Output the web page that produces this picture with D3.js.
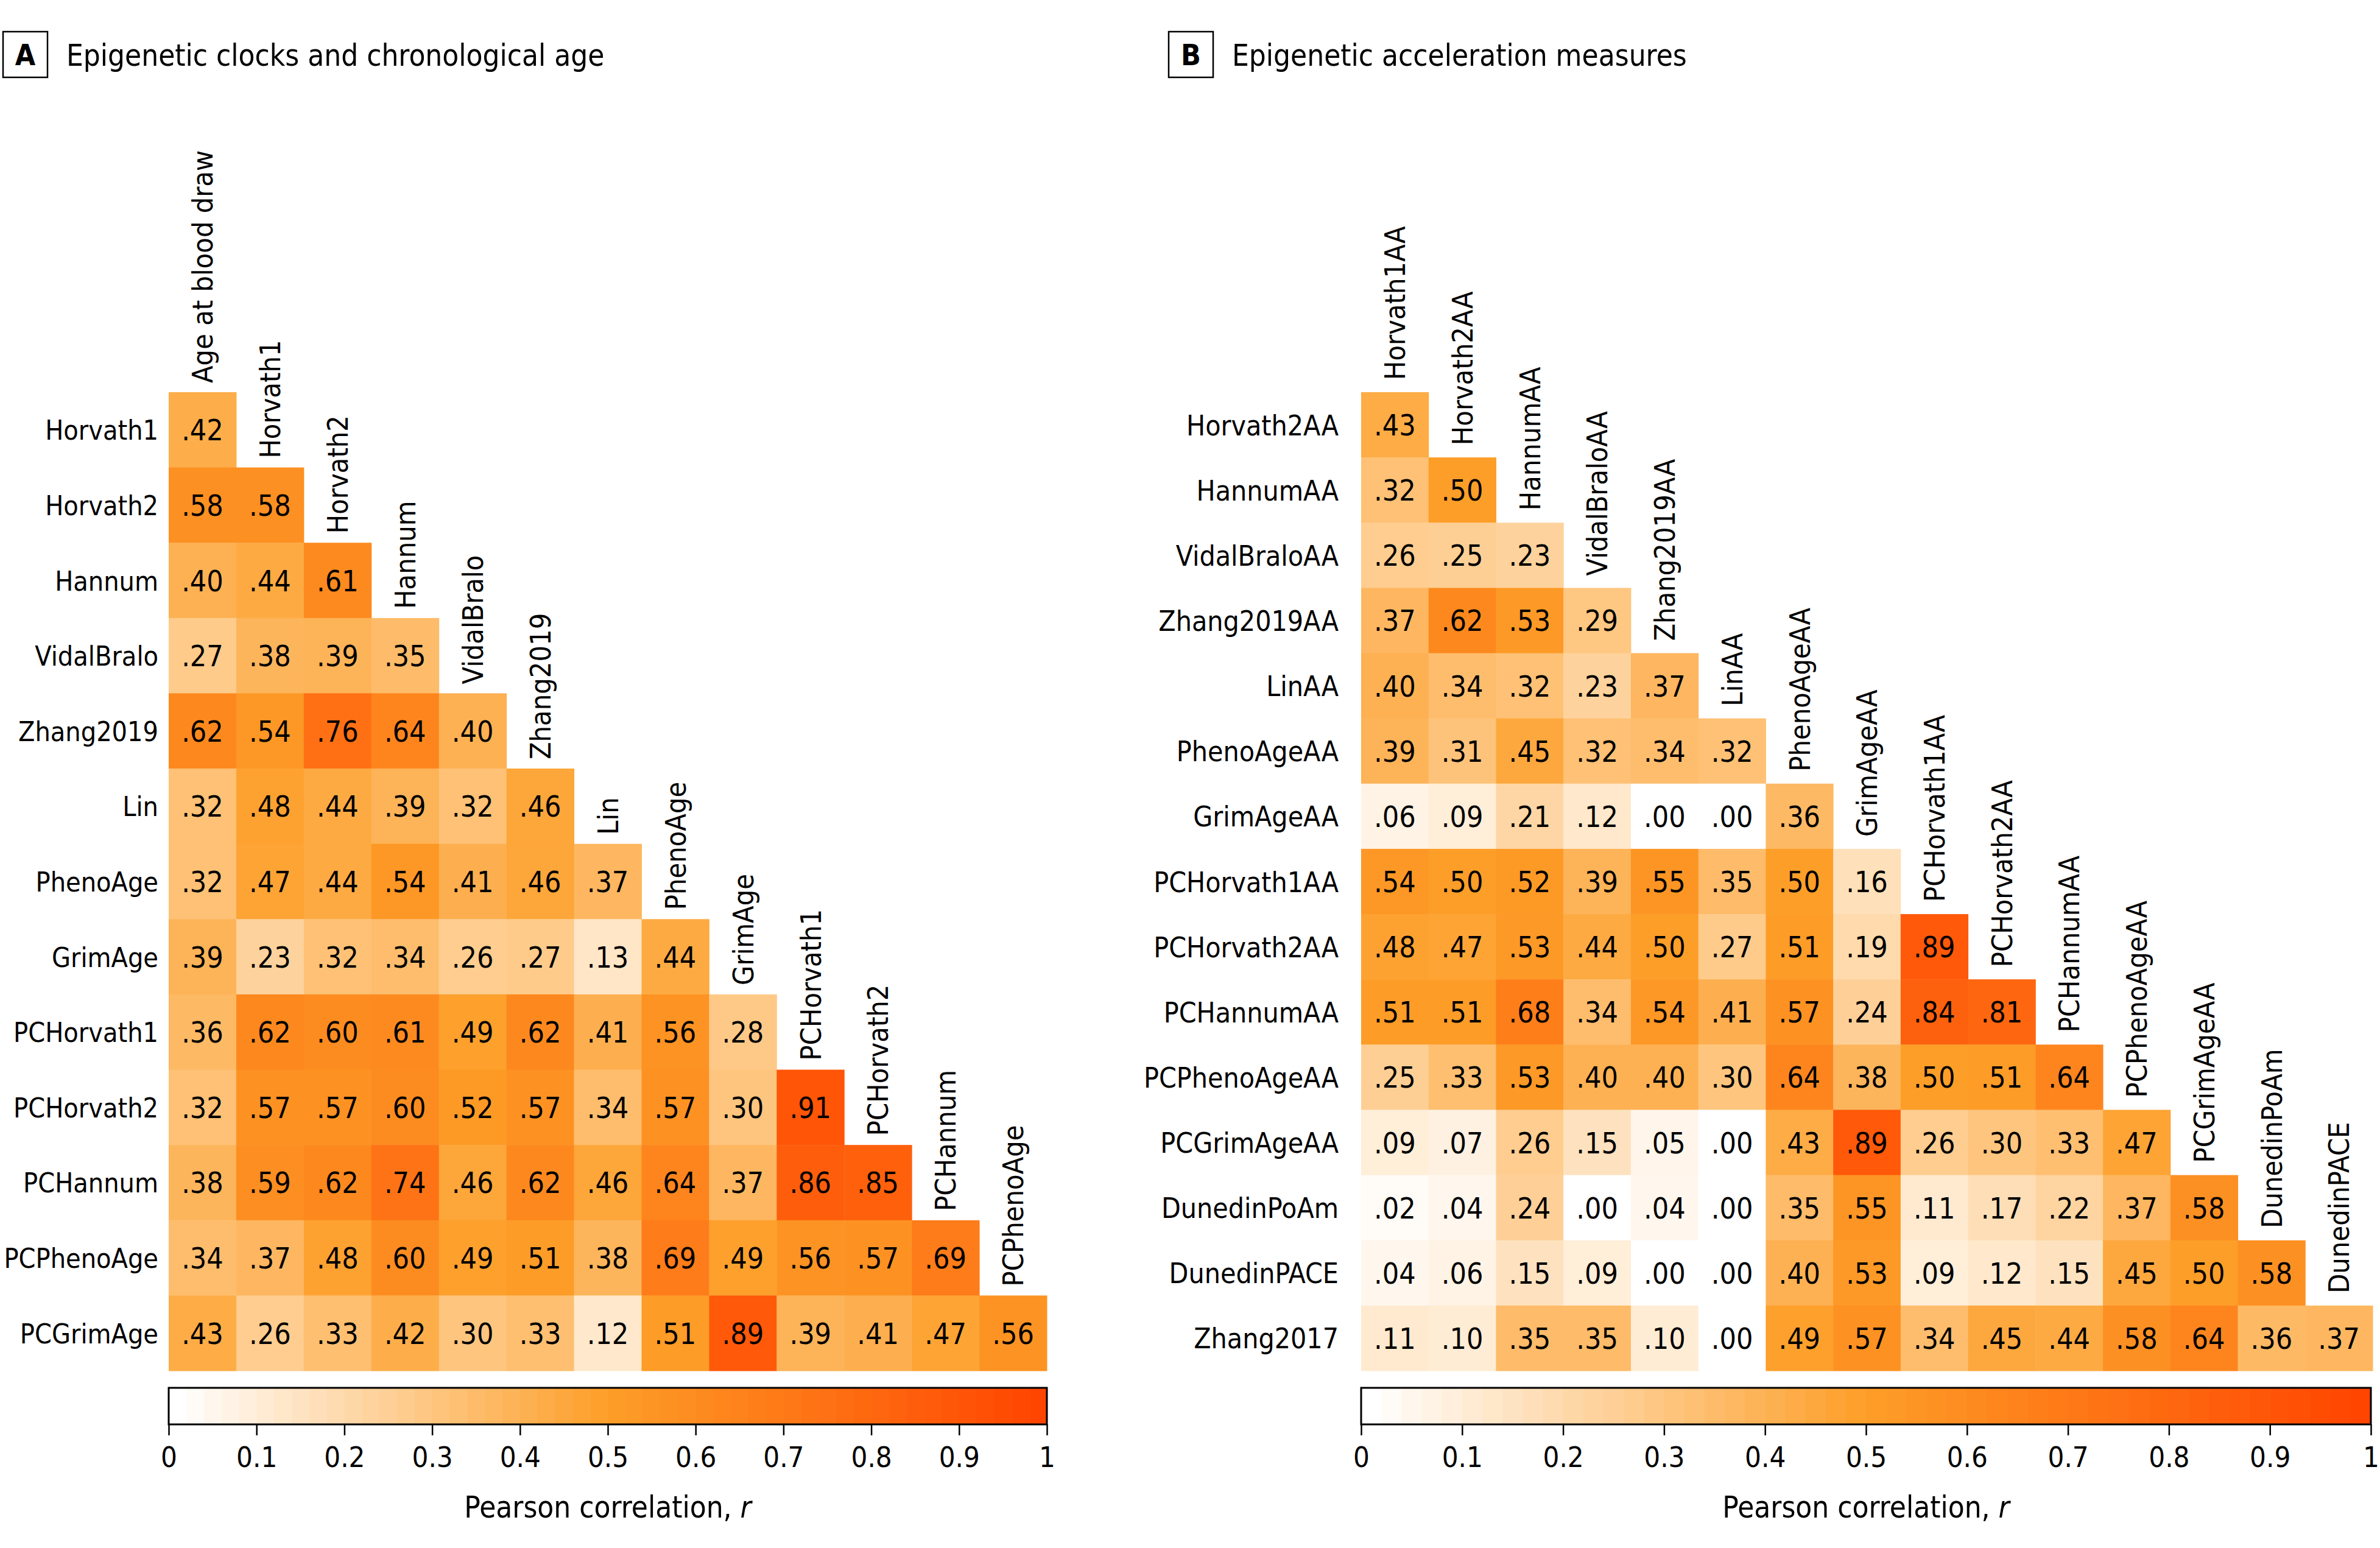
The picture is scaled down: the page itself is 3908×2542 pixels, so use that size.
<!DOCTYPE html>
<html><head><meta charset="utf-8">
<script src="https://cdn.jsdelivr.net/npm/d3@7/dist/d3.min.js"></script>
<style>
body{margin:0;background:#fff}
svg text{font-family:"DejaVu Sans Condensed","DejaVu Sans",sans-serif;font-stretch:condensed;fill:#000}
</style></head><body>
<svg id="chart" width="3908" height="2542" xmlns="http://www.w3.org/2000/svg"></svg>
<script>
// ---------- Data ----------
const colsA = ["Age at blood draw","Horvath1","Horvath2","Hannum","VidalBralo","Zhang2019","Lin","PhenoAge","GrimAge","PCHorvath1","PCHorvath2","PCHannum","PCPhenoAge"];
const rowsA = ["Horvath1","Horvath2","Hannum","VidalBralo","Zhang2019","Lin","PhenoAge","GrimAge","PCHorvath1","PCHorvath2","PCHannum","PCPhenoAge","PCGrimAge"];
const valsA = [
  [.42],
  [.58,.58],
  [.40,.44,.61],
  [.27,.38,.39,.35],
  [.62,.54,.76,.64,.40],
  [.32,.48,.44,.39,.32,.46],
  [.32,.47,.44,.54,.41,.46,.37],
  [.39,.23,.32,.34,.26,.27,.13,.44],
  [.36,.62,.60,.61,.49,.62,.41,.56,.28],
  [.32,.57,.57,.60,.52,.57,.34,.57,.30,.91],
  [.38,.59,.62,.74,.46,.62,.46,.64,.37,.86,.85],
  [.34,.37,.48,.60,.49,.51,.38,.69,.49,.56,.57,.69],
  [.43,.26,.33,.42,.30,.33,.12,.51,.89,.39,.41,.47,.56]
];
const colsB = ["Horvath1AA","Horvath2AA","HannumAA","VidalBraloAA","Zhang2019AA","LinAA","PhenoAgeAA","GrimAgeAA","PCHorvath1AA","PCHorvath2AA","PCHannumAA","PCPhenoAgeAA","PCGrimAgeAA","DunedinPoAm","DunedinPACE"];
const rowsB = ["Horvath2AA","HannumAA","VidalBraloAA","Zhang2019AA","LinAA","PhenoAgeAA","GrimAgeAA","PCHorvath1AA","PCHorvath2AA","PCHannumAA","PCPhenoAgeAA","PCGrimAgeAA","DunedinPoAm","DunedinPACE","Zhang2017"];
const valsB = [
  [.43],
  [.32,.50],
  [.26,.25,.23],
  [.37,.62,.53,.29],
  [.40,.34,.32,.23,.37],
  [.39,.31,.45,.32,.34,.32],
  [.06,.09,.21,.12,.00,.00,.36],
  [.54,.50,.52,.39,.55,.35,.50,.16],
  [.48,.47,.53,.44,.50,.27,.51,.19,.89],
  [.51,.51,.68,.34,.54,.41,.57,.24,.84,.81],
  [.25,.33,.53,.40,.40,.30,.64,.38,.50,.51,.64],
  [.09,.07,.26,.15,.05,.00,.43,.89,.26,.30,.33,.47],
  [.02,.04,.24,.00,.04,.00,.35,.55,.11,.17,.22,.37,.58],
  [.04,.06,.15,.09,.00,.00,.40,.53,.09,.12,.15,.45,.50,.58],
  [.11,.10,.35,.35,.10,.00,.49,.57,.34,.45,.44,.58,.64,.36,.37]
];
const colorTicks = [0,0.1,0.2,0.3,0.4,0.5,0.6,0.7,0.8,0.9,1];
const titleA = "Epigenetic clocks and chronological age";
const titleB = "Epigenetic acceleration measures";
const legendTitle = "Pearson correlation, ";

// ---------- Drawing ----------
const svg = d3.select("#chart");
const color = d3.scaleLinear().domain([0,0.5,1]).range(["#ffffff","#fd9e28","#ff4500"]).clamp(true);
const fmt = v => d3.format(".2f")(v).replace(/^0/,"").replace(/^-0/,"-");

function panel(o){
  const g = svg.append("g");
  const x = d3.scaleBand().domain(o.cols).range([o.x0,o.x1]).padding(0);
  const y = d3.scaleBand().domain(o.rows).range([o.y0,o.y1]).padding(0);
  const cells = [];
  o.vals.forEach((row,i)=>row.forEach((v,j)=>cells.push({r:o.rows[i],c:o.cols[j],v})));
  g.selectAll("rect.cell").data(cells).join("rect").attr("class","cell")
    .attr("x",d=>x(d.c)).attr("y",d=>y(d.r))
    .attr("width",x.bandwidth()+0.5).attr("height",y.bandwidth()+0.5)
    .attr("fill",d=>color(d.v));
  g.selectAll("text.val").data(cells).join("text").attr("class","val")
    .attr("x",d=>x(d.c)+x.bandwidth()/2).attr("y",d=>y(d.r)+y.bandwidth()/2)
    .attr("dy","0.365em").attr("text-anchor","middle").attr("font-size",48)
    .text(d=>fmt(d.v));
  // row labels
  g.selectAll("text.rl").data(o.rows).join("text").attr("class","rl")
    .attr("x",o.x0-o.rowGap).attr("y",d=>y(d)+y.bandwidth()/2)
    .attr("dy","0.37em").attr("text-anchor","end").attr("font-size",o.rowFs)
    .text(d=>d);
  // column labels (rotated, above first filled cell)
  g.selectAll("text.cl").data(o.cols).join("text").attr("class","cl")
    .attr("transform",(d,j)=>`translate(${x(d)+x.bandwidth()/2},${y(o.rows[j])-o.colGap}) rotate(-90)`)
    .attr("dy","0.36em").attr("text-anchor","start").attr("font-size",46.5)
    .text(d=>d);
  // colour bar
  const cb = d3.scaleLinear().domain([0,1]).range([o.x0,o.cbX1]);
  const nb = 50;
  const bands = d3.range(nb);
  g.selectAll("rect.band").data(bands).join("rect").attr("class","band")
    .attr("x",k=>cb(k/nb)).attr("y",o.cbY).attr("width",k=>cb((k+1)/nb)-cb(k/nb)+0.6)
    .attr("height",o.cbH).attr("fill",k=>color(k/(nb-1)));
  g.append("rect").attr("x",o.x0).attr("y",o.cbY).attr("width",o.cbX1-o.x0).attr("height",o.cbH)
    .attr("fill","none").attr("stroke","#000").attr("stroke-width",3);
  const ax = g.append("g").attr("transform",`translate(0,${o.cbY+o.cbH})`)
    .call(d3.axisBottom(cb).tickValues(colorTicks).tickSizeInner(18).tickSizeOuter(0).tickPadding(19)
      .tickFormat(d=>d===0?"0":d===1?"1":d3.format(".1f")(d)));
  ax.select(".domain").remove();
  ax.selectAll("line").attr("stroke","#000").attr("stroke-width",2.5);
  ax.selectAll("text").attr("font-size",47);
  ax.attr("font-family",null);
  const t = g.append("text").attr("x",(o.x0+o.cbX1)/2).attr("y",o.legY).attr("text-anchor","middle").attr("font-size",49);
  t.append("tspan").text(legendTitle);
  t.append("tspan").attr("font-style","italic").text("r");
  // panel header
  g.append("rect").attr("x",o.bx).attr("y",52).attr("width",73).attr("height",75)
    .attr("fill","none").attr("stroke","#000").attr("stroke-width",2.5);
  g.append("text").attr("x",o.bx+36.5).attr("y",107).attr("text-anchor","middle")
    .attr("font-size",48).attr("font-weight","bold").text(o.letter);
  g.append("text").attr("x",o.bx+104).attr("y",108).attr("font-size",49).text(o.title);
}

panel({cols:colsA,rows:rowsA,vals:valsA,x0:277,x1:1719,cbX1:1719,y0:644,y1:2251,rowGap:17,rowFs:44.5,colGap:15,
  cbY:2279,cbH:60,legY:2492,bx:5,letter:"A",title:titleA});
panel({cols:colsB,rows:rowsB,vals:valsB,x0:2235,x1:3896,cbX1:3893,y0:644,y1:2251,rowGap:37,rowFs:46,colGap:20,
  cbY:2279,cbH:60,legY:2492,bx:1919,letter:"B",title:titleB});
</script>
</body></html>
